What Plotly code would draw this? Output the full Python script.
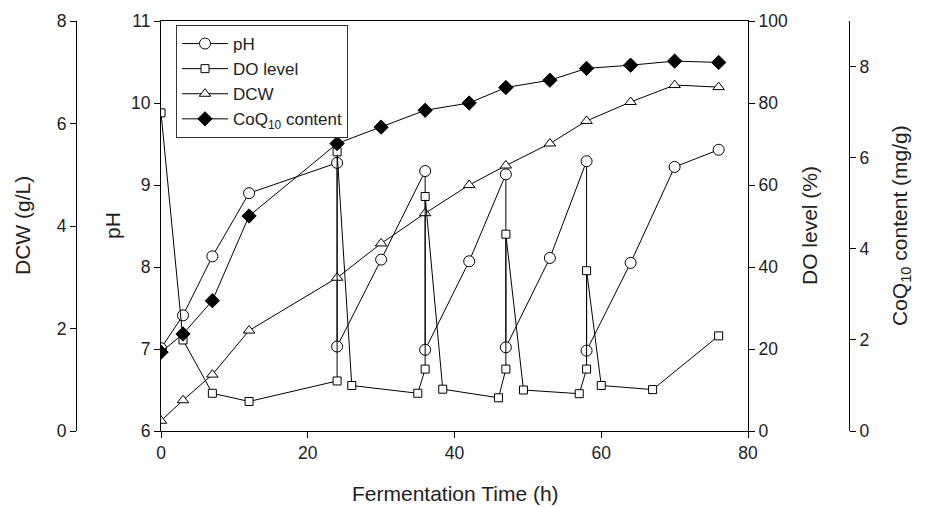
import plotly.graph_objects as go

# ---------------- data ----------------
ph_time = [0, 3, 7, 12, 24, 24, 30, 36, 36, 42, 47, 47, 53, 58, 58, 64, 70, 76]
ph_vals = [7.01, 7.41, 8.13, 8.90, 9.27, 7.03, 8.09, 9.17, 6.99, 8.07, 9.13, 7.02, 8.11, 9.29, 6.98, 8.05, 9.22, 9.43]

do_time = [0, 3, 7, 12, 24, 24, 26, 35, 36, 36, 38.4, 46, 47, 47, 49.4, 57, 58, 58, 60, 67, 76]
do_vals = [77.6, 22.2, 9.2, 7.2, 12.2, 68.1, 11.1, 9.2, 15.1, 57.2, 10.2, 8.1, 15.1, 48.0, 10.0, 9.1, 15.1, 39.1, 11.1, 10.1, 23.2]

dcw_time = [0, 3, 7, 12, 24, 30, 36, 42, 47, 53, 58, 64, 70, 76]
dcw_vals = [0.2, 0.6, 1.1, 1.96, 2.99, 3.66, 4.25, 4.8, 5.18, 5.61, 6.05, 6.42, 6.75, 6.71]

coq_time = [0, 3, 7, 12, 24, 30, 36, 42, 47, 53, 58, 64, 70, 76]
coq_vals = [1.73, 2.13, 2.86, 4.72, 6.31, 6.67, 7.04, 7.2, 7.54, 7.7, 7.96, 8.03, 8.12, 8.09]

x_ticks = [0, 20, 40, 60, 80]

# ---------------- layout geometry ----------------
W, H = 925, 507
px0, px1 = 161, 748
py_top, py_bot = 21, 431
xdom = [px0 / W, px1 / W]
ydom = [(H - py_bot) / H, (H - py_top) / H]

FONT = "Liberation Sans, Arial, Helvetica, sans-serif"
TXT = "#222222"

line_style = dict(color="black", width=1)

fig = go.Figure()
fig.add_trace(go.Scatter(
    x=ph_time, y=ph_vals, name="pH", mode="lines+markers", yaxis="y",
    line=line_style,
    marker=dict(symbol="circle", size=11, color="white", line=dict(color="black", width=1)),
))
fig.add_trace(go.Scatter(
    x=do_time, y=do_vals, name="DO level", mode="lines+markers", yaxis="y3",
    line=line_style,
    marker=dict(symbol="square", size=8, color="white", line=dict(color="black", width=1)),
))
fig.add_trace(go.Scatter(
    x=dcw_time, y=dcw_vals, name="DCW", mode="lines+markers", yaxis="y2",
    line=line_style,
    marker=dict(symbol="triangle-up", size=10, color="white", line=dict(color="black", width=1)),
))
fig.add_trace(go.Scatter(
    x=coq_time, y=coq_vals, name="CoQ<sub>10</sub> content", mode="lines+markers", yaxis="y4",
    line=line_style,
    marker=dict(symbol="diamond", size=11, color="black", line=dict(color="black", width=1)),
))

axis_common = dict(
    showgrid=False, zeroline=False, showline=True, linecolor="black", linewidth=1,
    ticks="outside", ticklen=6, tickwidth=1, tickcolor="black",
    tickfont=dict(family=FONT, size=17.5, color=TXT),
)

fig.update_layout(
    width=W, height=H,
    margin=dict(l=0, r=0, t=0, b=0, autoexpand=False),
    paper_bgcolor="white", plot_bgcolor="white",
    font=dict(family=FONT, size=17, color=TXT),
    showlegend=True,
    legend=dict(
        x=176 / W, y=(H - 25) / H, xanchor="left", yanchor="top",
        bordercolor="#333333", borderwidth=1, bgcolor="white",
        font=dict(family=FONT, size=17, color=TXT),
        tracegroupgap=0, itemwidth=46,
    ),
    xaxis=dict(
        domain=xdom, range=[0, 80], tickvals=x_ticks, mirror=True,
        anchor="y", **axis_common,
    ),
    yaxis=dict(
        domain=ydom, range=[6, 11], dtick=1, side="left", anchor="x", **axis_common,
    ),
    yaxis2=dict(
        range=[0, 8], dtick=2, side="left", overlaying="y", anchor="free",
        position=76 / W, **axis_common,
    ),
    yaxis3=dict(
        range=[0, 100], dtick=20, side="right", overlaying="y", anchor="x", **axis_common,
    ),
    yaxis4=dict(
        range=[0, 9], tickvals=[0, 2, 4, 6, 8], side="right", overlaying="y", anchor="free",
        position=849 / W, **axis_common,
    ),
)

title_font = dict(family=FONT, size=21, color=TXT)
yc = 1 - ((py_top + py_bot) / 2) / H
annos = [
    dict(text="DCW (g/L)", x=22 / W, y=yc, textangle=-90),
    dict(text="pH", x=112 / W, y=yc, textangle=-90),
    dict(text="DO level (%)", x=809 / W, y=yc, textangle=-90),
    dict(text="CoQ<sub>10</sub> content (mg/g)", x=901 / W, y=yc, textangle=-90),
    dict(text="Fermentation Time (h)", x=455 / W, y=1 - 493 / H, textangle=0),
]
for a in annos:
    fig.add_annotation(xref="paper", yref="paper", showarrow=False,
                       xanchor="center", yanchor="middle", font=title_font, **a)

fig.write_html(
    "out.html",
    config={"displayModeBar": False},
    post_script="document.body.style.margin='0px';document.body.style.overflow='hidden';",
)
